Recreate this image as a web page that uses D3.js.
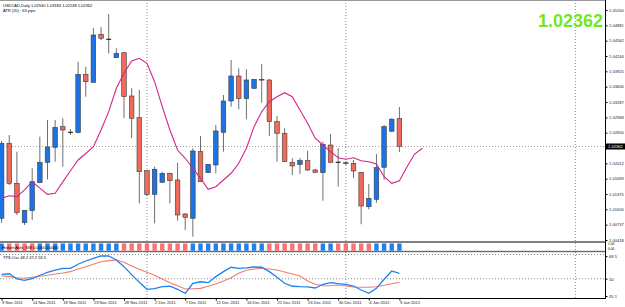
<!DOCTYPE html>
<html>
<head>
<meta charset="utf-8">
<script src="https://cdn.jsdelivr.net/npm/d3@7"></script>
<style>
  html, body { margin: 0; padding: 0; background: #fff; }
  svg { display: block; }
</style>
</head>
<body>
<div id="chart"></div>
<script>
// USDCAD daily bars, 9 Nov 2011 .. 9 Jan 2012
const barOpen = [1.00870, 1.02429, 1.01597, 1.00778, 1.01028, 1.01610, 1.02034, 1.02346, 1.02774, 1.02658,
  1.02649, 1.03863, 1.03697, 1.04695, 1.04591, 1.04208, 1.04312, 1.03412, 1.02961, 1.01859,
  1.01368, 1.01618, 1.01805, 1.01666, 1.00959, 1.00870, 1.02254, 1.01818, 1.01978, 1.02658,
  1.03308, 1.03828, 1.03356, 1.03572, 1.03759, 1.03745, 1.02878, 1.02637, 1.02034, 1.01992,
  1.02067, 1.01874, 1.01818, 1.02393, 1.02034, 1.02025, 1.02013, 1.01826, 1.01110, 1.01265,
  1.01930, 1.02680, 1.02940];
const barHigh = [1.02477, 1.02601, 1.02254, 1.01042, 1.01909, 1.02566, 1.02913, 1.02913, 1.02949, 1.02726,
  1.04125, 1.04021, 1.04826, 1.04847, 1.05117, 1.04404, 1.04327, 1.03572, 1.03537, 1.01874,
  1.01942, 1.01832, 1.01818, 1.02025, 1.00980, 1.02325, 1.02581, 1.01998, 1.02809, 1.03433,
  1.04161, 1.03988, 1.03967, 1.03766, 1.04077, 1.03766, 1.02996, 1.02741, 1.02117, 1.02123,
  1.02275, 1.01895, 1.02462, 1.02622, 1.02325, 1.02060, 1.02082, 1.01832, 1.01583, 1.02206,
  1.02809, 1.02950, 1.03184];
const barLow = [1.00772, 1.01562, 1.00938, 1.00730, 1.00834, 1.01603, 1.01680, 1.02046, 1.01942, 1.02601,
  1.02640, 1.03398, 1.03682, 1.04576, 1.04300, 1.04202, 1.02949, 1.02533, 1.01181, 1.01333,
  1.00766, 1.01603, 1.01181, 1.00820, 1.00626, 1.00487, 1.01624, 1.01811, 1.01805, 1.02254,
  1.03190, 1.03136, 1.02928, 1.03568, 1.03273, 1.02581, 1.02046, 1.02040, 1.01770, 1.01791,
  1.01853, 1.01811, 1.01235, 1.02020, 1.01527, 1.01978, 1.01701, 1.00745, 1.01057, 1.01194,
  1.01666, 1.02660, 1.02248];
const barClose = [1.02429, 1.01597, 1.00986, 1.01036, 1.01630, 1.02034, 1.02352, 1.02761, 1.02705, 1.02658,
  1.03863, 1.03709, 1.04680, 1.04612, 1.04591, 1.04300, 1.03398, 1.02949, 1.01838, 1.01368,
  1.01888, 1.01805, 1.01651, 1.00938, 1.00890, 1.02269, 1.01630, 1.01992, 1.02685, 1.03308,
  1.03828, 1.03356, 1.03745, 1.03759, 1.03745, 1.02878, 1.02637, 1.02046, 1.01957, 1.02067,
  1.01874, 1.01826, 1.02408, 1.02034, 1.02034, 1.02005, 1.01853, 1.01125, 1.01285, 1.01922,
  1.02774, 1.02930, 1.02362];

// moving average, drawn shifted 3 bars forward (56 points)
const maLine = [1.01285, 1.01339, 1.01319, 1.01458, 1.01630, 1.01495, 1.01368, 1.01389, 1.01626, 1.01859,
  1.02082, 1.02217, 1.02358, 1.02705, 1.03086, 1.03572, 1.03884, 1.04140, 1.04196, 1.04092,
  1.03709, 1.03190, 1.02705, 1.02289, 1.02117, 1.01909, 1.01701, 1.01473, 1.01527, 1.01666,
  1.01805, 1.02013, 1.02325, 1.02774, 1.03086, 1.03294, 1.03398, 1.03481, 1.03398, 1.03121,
  1.02845, 1.02533, 1.02393, 1.02254, 1.02129, 1.02096, 1.02129, 1.02067, 1.02046, 1.01998,
  1.01734, 1.01597, 1.01651, 1.01942, 1.02206, 1.02325];

// Heiken Ashi direction per bar: 1 up (blue), -1 down (red)
const haTrend = [1, -1, -1, -1, -1, 1, 1, 1, 1, 1, 1, 1, 1, 1, 1, 1,
  -1, -1, -1, -1, -1, -1, -1, -1, -1,
  1, 1, 1, 1, 1, 1, 1, 1, 1, 1,
  -1, -1, -1, -1, -1, -1, -1,
  1, 1, -1, -1, -1, -1, -1, 1, 1, 1, 1];

// TPS oscillator
const oscBlue = [53.8, 54.3, 49.8, 48.6, 50.0, 53.0, 55.5, 57.5, 59.0, 59.0,
  62.5, 65.3, 67.6, 69.6, 69.6, 66.2, 60.4, 53.5, 46.9, 40.9,
  41.4, 43.1, 43.5, 40.9, 37.4, 46.1, 47.4, 46.6, 51.8, 56.1,
  59.9, 59.0, 59.3, 60.1, 59.9, 56.1, 51.2, 46.1, 43.5, 43.1,
  42.9, 42.0, 45.2, 46.6, 45.7, 45.2, 43.7, 40.3, 37.4, 41.7,
  49.5, 56.7, 54.7];
const oscRed = [52.6, 51.8, 50.9, 50.4, 51.2, 52.1, 53.0, 54.1, 54.9, 56.1,
  58.4, 60.4, 62.5, 64.7, 65.6, 66.2, 64.2, 61.0, 58.1, 55.5,
  53.0, 49.8, 46.6, 44.0, 41.1, 41.4, 41.7, 43.5, 45.5, 48.0,
  50.9, 54.7, 57.3, 58.4, 59.0, 58.4, 57.5, 55.8, 54.1, 52.4,
  48.0, 45.2, 44.0, 44.0, 44.6, 43.7, 42.9, 42.6, 42.6, 43.1,
  44.3, 45.7, 46.9];

const dateLabels = ['9 Nov 2011', '14 Nov 2011', '18 Nov 2011', '23 Nov 2011', '28 Nov 2011', '2 Dec 2011',
  '7 Dec 2011', '12 Dec 2011', '16 Dec 2011', '21 Dec 2011', '26 Dec 2011', '30 Dec 2011', '4 Jan 2012', '9 Jan 2012'];
const dateLabelBars = [0, 4, 8, 12, 16, 20, 24, 28, 32, 36, 40, 44, 48, 52];
const monthGridBars = [19, 45, 75];
const priceTicks = [1.05200, 1.04881, 1.04562, 1.04244, 1.03925, 1.03606, 1.03287, 1.02968, 1.02650,
  1.02012, 1.01693, 1.01375, 1.01056, 1.00737, 1.00418];
const oscTicks = [35.1, 50, 69.5];
const lastPrice = 1.02362;

const BLUE = '#1a74e6';
const RED = '#f0695a';
const AXIS_X = 605;

const svg = d3.select('#chart').append('svg')
  .attr('width', 625)
  .attr('height', 307)
  .style('font-family', '"Liberation Sans", Arial, sans-serif');

const x = d3.scaleLinear().domain([0, 52]).range([1.6, 399.4]);
const y = d3.scaleLinear().domain([1.00418, 1.05200]).range([240, 10]);
const yOsc = d3.scaleLinear().domain([35.1, 69.6]).range([296, 256]);

svg.append('clipPath').attr('id', 'clipMain')
  .append('rect').attr('x', 0).attr('y', 0).attr('width', AXIS_X).attr('height', 241);
svg.append('clipPath').attr('id', 'clipOsc')
  .append('rect').attr('x', 0).attr('y', 252).attr('width', AXIS_X).attr('height', 46);

// month separators
svg.append('g').selectAll('line')
  .data(monthGridBars)
  .join('line')
  .attr('x1', d => x(d)).attr('x2', d => x(d))
  .attr('y1', 0).attr('y2', 298)
  .attr('stroke', '#8a8a8a')
  .attr('stroke-dasharray', '1,2');

// bid line
svg.append('line')
  .attr('x1', 0).attr('x2', AXIS_X)
  .attr('y1', Math.round(y(lastPrice)) + 0.5).attr('y2', Math.round(y(lastPrice)) + 0.5)
  .attr('stroke', '#a0a0a0')
  .attr('stroke-dasharray', '1,2');

const main = svg.append('g').attr('clip-path', 'url(#clipMain)');
const bars = d3.range(barOpen.length);

main.append('g').selectAll('line')
  .data(bars)
  .join('line')
  .attr('x1', i => x(i)).attr('x2', i => x(i))
  .attr('y1', i => y(barHigh[i])).attr('y2', i => y(barLow[i]))
  .attr('stroke', '#6e6e6e')
  .attr('stroke-width', 1);

main.append('g').selectAll('rect')
  .data(bars.filter(i => barOpen[i] !== barClose[i]))
  .join('rect')
  .attr('x', i => x(i) - 2.3)
  .attr('width', 4.6)
  .attr('y', i => y(Math.max(barOpen[i], barClose[i])))
  .attr('height', i => Math.max(0.8, Math.abs(y(barOpen[i]) - y(barClose[i]))))
  .attr('fill', i => barClose[i] > barOpen[i] ? BLUE : RED)
  .attr('stroke', '#3c3c3c')
  .attr('stroke-width', 0.6);

// doji
main.append('g').selectAll('line')
  .data(bars.filter(i => barOpen[i] === barClose[i]))
  .join('line')
  .attr('x1', i => x(i) - 2.5).attr('x2', i => x(i) + 2.5)
  .attr('y1', i => y(barOpen[i])).attr('y2', i => y(barOpen[i]))
  .attr('stroke', '#000')
  .attr('stroke-width', 1);

main.append('path')
  .datum(maLine)
  .attr('fill', 'none')
  .attr('stroke', '#d2248f')
  .attr('stroke-width', 1.1)
  .attr('d', d3.line().x((d, i) => x(i)).y(d => y(d)));

// panel frames
svg.append('rect').attr('x', 0).attr('y', 241).attr('width', AXIS_X).attr('height', 2).attr('fill', '#808080');
svg.append('rect').attr('x', 0).attr('y', 250.8).attr('width', AXIS_X).attr('height', 1.4).attr('fill', '#6a6a6a');
svg.append('line').attr('x1', 0).attr('x2', AXIS_X).attr('y1', 298.5).attr('y2', 298.5).attr('stroke', '#000');
svg.append('line').attr('x1', AXIS_X + 0.5).attr('x2', AXIS_X + 0.5).attr('y1', 0).attr('y2', 299).attr('stroke', '#000');

// Heiken Ashi strip
svg.append('g').selectAll('rect')
  .data(bars)
  .join('rect')
  .attr('x', i => x(i) - 2.2)
  .attr('width', 4.4)
  .attr('y', 243.5)
  .attr('height', 7.2)
  .attr('fill', i => haTrend[i] > 0 ? '#1f80f0' : '#ff6f6f');

svg.append('text')
  .attr('x', 2).attr('y', 249)
  .style('font-size', '4px')
  .text('Heiken Ashi_SW 0.0000 0.0000');

// oscillator
svg.append('line')
  .attr('x1', 0).attr('x2', AXIS_X).attr('y1', 254.5).attr('y2', 254.5)
  .attr('stroke', '#8a8a8a').attr('stroke-dasharray', '1,2');
svg.append('line')
  .attr('x1', 0).attr('x2', AXIS_X).attr('y1', yOsc(50)).attr('y2', yOsc(50))
  .attr('stroke', '#8a8a8a').attr('stroke-dasharray', '1,2');

const osc = svg.append('g').attr('clip-path', 'url(#clipOsc)');
const oscLine = d3.line().x((d, i) => x(i)).y(d => yOsc(d));
osc.append('path').datum(oscRed)
  .attr('fill', 'none').attr('stroke', '#f47c6f').attr('stroke-width', 1.1)
  .attr('d', oscLine);
osc.append('path').datum(oscBlue)
  .attr('fill', 'none').attr('stroke', '#1e82f0').attr('stroke-width', 1.3)
  .attr('d', oscLine);

svg.append('text')
  .attr('x', 3).attr('y', 259)
  .style('font-size', '4px')
  .text('TPS-Osc 48.2 47.2 53.5');

// right price axis
const priceAxis = svg.append('g')
  .attr('transform', `translate(${AXIS_X + 0.5},0)`)
  .call(d3.axisRight(y).tickValues(priceTicks).tickFormat(d => d.toFixed(5)).tickSize(2).tickPadding(1.5));
priceAxis.select('.domain').remove();
priceAxis.selectAll('text').style('font-size', '4.1px').attr('fill', '#222');

const oscAxis = svg.append('g')
  .attr('transform', `translate(${AXIS_X + 0.5},0)`)
  .call(d3.axisRight(yOsc).tickValues(oscTicks).tickFormat(d => d === 50 ? '50' : d.toFixed(1)).tickSize(2).tickPadding(1.5));
oscAxis.select('.domain').remove();
oscAxis.selectAll('text').style('font-size', '4.1px').attr('fill', '#222');

svg.append('text').attr('x', 608).attr('y', 245.3).style('font-size', '3.3px').text('1.00');
svg.append('text').attr('x', 608).attr('y', 249.8).style('font-size', '3.3px').text('0.00');

// current price marker
svg.append('rect')
  .attr('x', AXIS_X + 1).attr('y', y(lastPrice) - 3)
  .attr('width', 19).attr('height', 6)
  .attr('fill', '#000');
svg.append('text')
  .attr('x', AXIS_X + 3).attr('y', y(lastPrice) + 1.5)
  .attr('fill', '#fff')
  .style('font-size', '4.1px')
  .text(lastPrice.toFixed(5));

// time axis
const timeAxis = svg.append('g')
  .attr('transform', 'translate(0,298.5)')
  .call(d3.axisBottom(x).tickValues(dateLabelBars).tickFormat((d, i) => dateLabels[i]).tickSize(2).tickPadding(1));
timeAxis.select('.domain').remove();
timeAxis.selectAll('text')
  .attr('text-anchor', 'start')
  .attr('y', 2.5)
  .style('font-size', '4.1px')
  .attr('fill', '#222');

// header texts
svg.append('text')
  .attr('x', 3).attr('y', 7.3)
  .style('font-size', '4px')
  .text('USDCAD,Daily  1.02940 1.03184 1.02248 1.02362');
svg.append('text')
  .attr('x', 3).attr('y', 11.8)
  .style('font-size', '4px')
  .text('ATR (20) : 63 pips');

svg.append('text')
  .attr('x', 603).attr('y', 26.7)
  .attr('text-anchor', 'end')
  .attr('fill', '#74e81a')
  .style('font-size', '18px')
  .style('font-weight', 'bold')
  .text(lastPrice.toFixed(5));

svg.append('line').attr('x1', 0).attr('x2', AXIS_X).attr('y1', 0.5).attr('y2', 0.5).attr('stroke', '#9a9a9a');
</script>
</body>
</html>
